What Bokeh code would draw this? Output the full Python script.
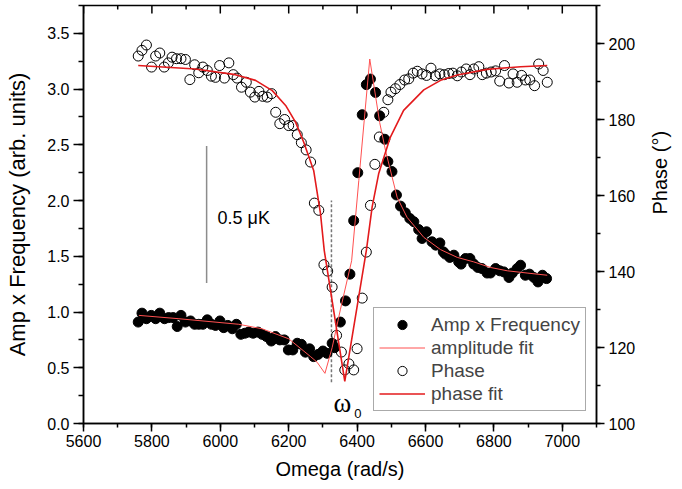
import math
from bokeh.plotting import figure
from bokeh.models import (LinearAxis, Range1d, SingleIntervalTicker, Legend,
                          LegendItem, PrintfTickFormatter)
from bokeh.core.properties import value
from bokeh.embed import file_html
from bokeh.resources import INLINE

# ---------------- data ----------------
amp_omega = [5760, 5771, 5784, 5798, 5811, 5823, 5837, 5849, 5862, 5874, 5885, 5898,
             5913, 5925, 5937, 5949, 5962, 5974, 5986, 5999, 6010, 6022, 6035, 6047,
             6060, 6072, 6083, 6096, 6110, 6122, 6135, 6149, 6161, 6174, 6187, 6199,
             6212, 6225, 6237, 6249, 6261, 6273, 6286, 6300, 6312, 6327, 6334, 6351,
             6366, 6379, 6390, 6402, 6415, 6427, 6439, 6454, 6466, 6481, 6490, 6502,
             6515, 6527, 6541, 6554, 6566, 6580, 6590, 6603, 6619, 6630, 6642, 6652,
             6658, 6671, 6683, 6697, 6704, 6717, 6730, 6741, 6753, 6765, 6780, 6790,
             6805, 6817, 6829, 6844, 6854, 6868, 6878, 6892, 6904, 6917, 6929, 6942,
             6954]
amp_values = [0.91, 0.99, 0.94, 0.97, 0.94, 0.99, 0.94, 0.95, 0.95, 0.87, 0.97, 0.91,
              0.92, 0.89, 0.89, 0.89, 0.93, 0.89, 0.88, 0.92, 0.86, 0.88, 0.85, 0.89,
              0.80, 0.81, 0.82, 0.81, 0.82, 0.80, 0.78, 0.74, 0.78, 0.75, 0.75, 0.66,
              0.66, 0.72, 0.71, 0.64, 0.67, 0.60, 0.62, 0.65, 0.63, 0.72, 0.68, 0.91,
              1.10, 1.34, 1.82, 2.25, 2.77, 3.04, 3.09, 2.97, 2.76, 2.55, 2.35, 2.26,
              2.05, 1.95, 1.89, 1.84, 1.81, 1.74, 1.66, 1.72, 1.63, 1.60, 1.62, 1.54,
              1.52, 1.49, 1.51, 1.45, 1.43, 1.48, 1.48, 1.43, 1.40, 1.39, 1.35, 1.35,
              1.39, 1.37, 1.36, 1.31, 1.35, 1.39, 1.42, 1.33, 1.34, 1.31, 1.27, 1.33,
              1.30]

phase_omega = [5760, 5771, 5784, 5799, 5811, 5823, 5836, 5848, 5859, 5872, 5885, 5898,
               5911, 5925, 5937, 5949, 5962, 5974, 5986, 5998, 6012, 6025, 6038, 6049,
               6062, 6076, 6088, 6101, 6113, 6124, 6137, 6150, 6162, 6174, 6188, 6200,
               6213, 6225, 6237, 6251, 6264, 6275, 6288, 6303, 6314, 6327, 6340, 6354,
               6364, 6376, 6390, 6400, 6415, 6427, 6439, 6452, 6465, 6478, 6490, 6499,
               6512, 6525, 6539, 6551, 6564, 6576, 6590, 6603, 6616, 6629, 6642, 6655,
               6668, 6680, 6693, 6705, 6719, 6730, 6741, 6756, 6766, 6778, 6792, 6805,
               6817, 6831, 6844, 6856, 6868, 6881, 6892, 6905, 6919, 6931, 6944, 6956]
phase_values = [196.7, 198.2, 199.6, 193.8, 196.7, 197.5, 193.8, 194.9, 196.4, 196.0,
                196.0, 195.8, 190.5, 194.4, 192.3, 193.8, 192.9, 191.4, 191.1, 194.2,
                190.9, 194.9, 191.8, 190.9, 188.5, 189.8, 187.2, 185.9, 187.4, 186.1,
                185.9, 186.8, 181.9, 178.9, 180.0, 178.4, 178.4, 176.0, 173.9, 172.0,
                168.8, 158.0, 156.1, 141.8, 140.1, 135.9, 123.2, 118.8, 114.1, 115.7,
                114.1, 119.7, 133.0, 145.1, 157.4, 168.2, 175.4, 181.9, 185.2, 187.2,
                188.1, 189.2, 190.4, 190.7, 192.2, 192.7, 192.0, 191.6, 193.5, 191.5,
                192.0, 191.8, 192.1, 192.2, 191.5, 192.5, 193.3, 191.8, 193.3, 193.9,
                191.8, 192.2, 192.5, 192.8, 190.1, 194.2, 189.6, 192.0, 189.8, 191.6,
                190.4, 190.4, 188.9, 194.6, 192.9, 189.8]

ampfit_omega = [5762, 5879, 6054, 6122, 6200, 6264, 6283, 6306, 6327, 6351, 6384, 6405,
                6437, 6466, 6483, 6517, 6546, 6595, 6644, 6693, 6741, 6790, 6839, 6897,
                6956]
ampfit_values = [0.97, 0.94, 0.89, 0.85, 0.76, 0.60, 0.55, 0.45, 0.68, 1.02, 1.46, 2.18,
                 3.27, 2.70, 2.45, 2.03, 1.85, 1.67, 1.56, 1.49, 1.45, 1.40, 1.37, 1.35,
                 1.33]

phasefit_omega = [5760, 5927, 6044, 6103, 6152, 6191, 6220, 6244, 6273, 6293, 6304, 6364,
                  6427, 6444, 6463, 6497, 6536, 6595, 6644, 6693, 6780, 6878, 6956]
phasefit_values = [194.2, 193.3, 191.8, 190.3, 187.6, 183.7, 179.3, 174.0, 166.6, 155.2,
                   145.5, 111.1, 145.5, 157.0, 165.7, 175.3, 182.4, 187.8, 190.3, 191.7,
                   193.2, 193.9, 194.2]

x_min, x_max = 5600, 7100
y_min, y_max = 0, 3.75
phase_min, phase_max = 100, 210
x_tick_interval = 200
top_major_ticks = [5600, 5800, 6000, 6200, 6400, 6600, 6800, 7000]
top_minor_ticks = [5700, 5900, 6100, 6300, 6500, 6700, 6900, 7100]

omega0 = 6325
omega0_line = [0.37, 2.0]
scalebar_x = 5960
scalebar_y = [1.26, 2.49]
scalebar_label = "0.5 \u03bcK"

FONT = "Liberation Sans"
AMPFIT_COLOR = "#ff5050"
PHASEFIT_COLOR = "#e31a1c"

p = figure(frame_width=513, frame_height=418,
           x_range=Range1d(x_min, x_max), y_range=Range1d(y_min, y_max),
           output_backend="svg", toolbar_location=None,
           min_border_left=83, min_border_right=82, min_border_top=5,
           min_border_bottom=60, background_fill_color="white",
           border_fill_color="white")
p.outline_line_color = "black"
p.outline_line_width = 1.5
p.grid.visible = False
p.extra_y_ranges = {"phase": Range1d(phase_min, phase_max)}

def style_axis(ax):
    ax.axis_line_width = 1.5
    ax.axis_line_color = "black"
    ax.major_tick_line_width = 1.5
    ax.minor_tick_line_width = 1.5
    ax.major_tick_line_color = "black"
    ax.minor_tick_line_color = "black"
    ax.major_tick_in = 0
    ax.minor_tick_in = 0
    ax.major_label_text_font = FONT
    ax.major_label_text_font_size = "16px"
    ax.major_label_text_color = "black"
    ax.axis_label_text_font = FONT
    ax.axis_label_text_font_size = "20px"
    ax.axis_label_text_font_style = "normal"
    ax.axis_label_text_color = "black"

# bottom
xa = p.xaxis[0]
style_axis(xa)
xa.ticker = SingleIntervalTicker(interval=x_tick_interval, num_minor_ticks=2)
xa.major_tick_out = 8
xa.minor_tick_out = 4
xa.major_label_standoff = 3
xa.axis_label = "Omega (rad/s)"
xa.axis_label_standoff = 8

# left
ya = p.yaxis[0]
style_axis(ya)
ya.ticker = SingleIntervalTicker(interval=0.5, num_minor_ticks=2)
ya.formatter = PrintfTickFormatter(format="%.1f")
ya.major_tick_out = 10
ya.minor_tick_out = 5
ya.major_label_standoff = 4
ya.axis_label = "Amp x Frequency (arb. units)"
ya.axis_label_text_font_size = "22px"
ya.axis_label_standoff = 14

# right (phase)
ra = LinearAxis(y_range_name="phase",
                ticker=SingleIntervalTicker(interval=20, num_minor_ticks=2))
style_axis(ra)
ra.major_tick_out = 8
ra.minor_tick_out = 4
ra.major_label_standoff = 4
ra.axis_label = "Phase (\u00b0)"
ra.axis_label_standoff = 22
ra.axis_label_orientation = math.pi / 2
p.add_layout(ra, "right")

# top ticks (pointing inward, half of each dash is clipped by the frame)
p.scatter(top_major_ticks, [y_max] * len(top_major_ticks), marker="dash",
          angle=math.pi / 2, size=16, line_color="black", line_width=1.5)
p.scatter(top_minor_ticks, [y_max] * len(top_minor_ticks), marker="dash",
          angle=math.pi / 2, size=8, line_color="black", line_width=1.5)

# annotations
p.segment(x0=[scalebar_x], y0=[scalebar_y[0]], x1=[scalebar_x], y1=[scalebar_y[1]],
          line_color="#8c8c8c", line_width=1.5)
p.segment(x0=[omega0], y0=[omega0_line[0]], x1=[omega0], y1=[omega0_line[1]],
          line_color="#777777", line_width=1.5, line_dash="3 2")
p.text(x=[5992], y=[1.84], text=[scalebar_label], text_font=value(FONT),
       text_font_size="18px", text_baseline="alphabetic", text_color="black")
p.text(x=[6331], y=[0.18], text=["\u03c9"], text_font=value("Liberation Serif"),
       text_font_size="27px", text_baseline="alphabetic", text_color="black")
p.text(x=[6392], y=[0.09], text=["0"], text_font=value(FONT),
       text_font_size="13px", text_baseline="alphabetic", text_color="black")

# data
r_amp = p.scatter(amp_omega, amp_values, marker="circle", size=10,
                  fill_color="black", line_color="black")
r_phase = p.scatter(phase_omega, phase_values, marker="circle", size=10,
                    fill_color=None, line_color="black", line_width=1,
                    y_range_name="phase")
r_ampfit = p.line(ampfit_omega, ampfit_values, line_color=AMPFIT_COLOR, line_width=1)
r_phasefit = p.line(phasefit_omega, phasefit_values, line_color=PHASEFIT_COLOR,
                    line_width=1.6, y_range_name="phase")

legend = Legend(items=[
    LegendItem(label="Amp x Frequency", renderers=[r_amp]),
    LegendItem(label="amplitude fit", renderers=[r_ampfit]),
    LegendItem(label="Phase", renderers=[r_phase]),
    LegendItem(label="phase fit", renderers=[r_phasefit]),
], location=(290, 12))
legend.label_text_font = FONT
legend.label_text_font_size = "19px"
legend.glyph_width = 46
legend.glyph_height = 23
legend.label_height = 23
legend.spacing = 0
legend.padding = 5
legend.margin = 0
legend.label_standoff = 6
legend.border_line_color = "#555555"
legend.border_line_width = 1
legend.background_fill_color = "white"
legend.background_fill_alpha = 1
p.add_layout(legend)

open("out.html", "w").write(file_html(p, INLINE))
